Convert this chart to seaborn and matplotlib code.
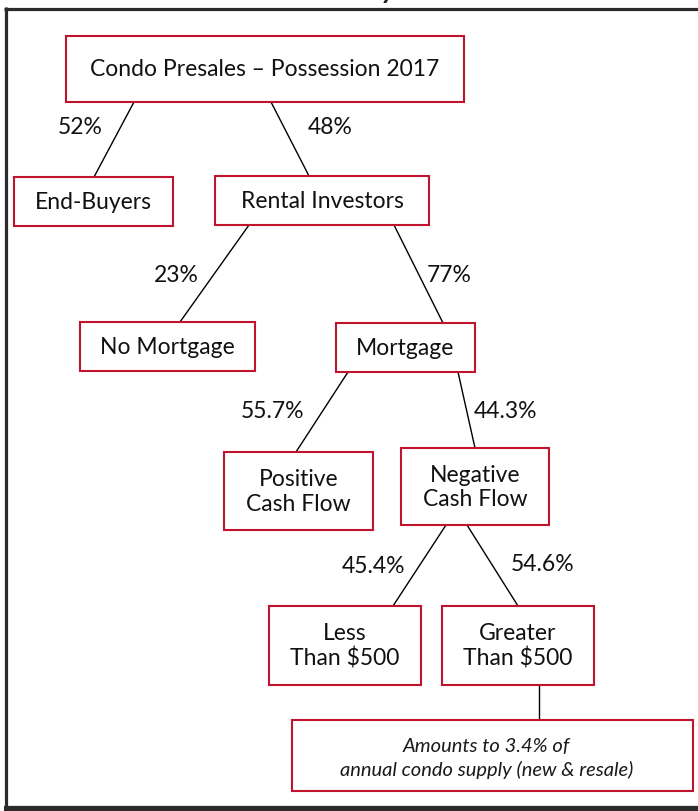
import pandas as pd
import seaborn as sns
from matplotlib import pyplot as plt
from matplotlib.patches import Rectangle

# tree content
node_labels = [
    "Condo Presales \u2013 Possession 2017",
    "End-Buyers",
    "Rental Investors",
    "No Mortgage",
    "Mortgage",
    "Positive\nCash Flow",
    "Negative\nCash Flow",
    "Less\nThan $500",
    "Greater\nThan $500",
    "Amounts to 3.4% of\nannual condo supply (new & resale)",
]
edge_parent = [0, 0, 2, 2, 4, 4, 6, 6, 8]
edge_child = [1, 2, 3, 4, 5, 6, 7, 8, 9]
edge_pct = ["52%", "48%", "23%", "77%", "55.7%", "44.3%", "45.4%", "54.6%", ""]

# layout in pixels (x0, y0, x1, y1)
box_xy = [
    (66, 37, 464, 103),
    (14, 178, 173, 227),
    (215, 177, 429, 226),
    (80, 323, 255, 372),
    (336, 324, 475, 373),
    (224, 453, 373, 531),
    (401, 449, 549, 526),
    (269, 607, 421, 686),
    (442, 607, 594, 686),
    (292, 721, 693, 792),
]
edge_from_x = [134, 271, 249, 394, 348, 458, 446, 467, 539]
edge_to_x = [94, 309, 180, 443, 296, 475, 393, 518, 539]
pct_xy = [(80, 128), (330, 128), (176, 276), (449, 276),
          (273, 412), (505, 412), (373, 567), (543, 565), (0, 0)]

sns.set_theme(style="white")
plt.rcParams['font.family'] = ['Lato', 'DejaVu Sans']

fig = plt.figure(figsize=(6.98, 8.12), dpi=100)
ax = fig.add_axes([0, 0, 1, 1])
ax.set_xlim(0, 698)
ax.set_ylim(812, 0)
ax.axis('off')

# connectors
rows = []
for i, (p, c) in enumerate(zip(edge_parent, edge_child)):
    rows.append({'edge': i, 'x': edge_from_x[i], 'y': box_xy[p][3]})
    rows.append({'edge': i, 'x': edge_to_x[i], 'y': box_xy[c][1]})
edges = pd.DataFrame(rows)
sns.lineplot(data=edges, x='x', y='y', units='edge', estimator=None,
             sort=False, color='black', linewidth=1.0, legend=False, ax=ax)
ax.set_xlim(0, 698)
ax.set_ylim(812, 0)
ax.axis('off')

# boxes + labels
for i, label in enumerate(node_labels):
    x0, y0, x1, y1 = box_xy[i]
    ax.add_patch(Rectangle((x0, y0), x1 - x0, y1 - y0, facecolor='white',
                           edgecolor='#C0142E', linewidth=1.5, zorder=3))
    if i == len(node_labels) - 1:
        ax.text((x0 + x1) / 2 - 6, (y0 + y1) / 2 + 2, label, ha='center', va='center',
                fontsize=14.5, style='italic', color='#1a1a1a', linespacing=1.35, zorder=4)
    else:
        ax.text((x0 + x1) / 2, (y0 + y1) / 2, label, ha='center', va='center',
                fontsize=16.5, color='#111111', linespacing=1.2, zorder=4)

for (x, y), pct in zip(pct_xy, edge_pct):
    if pct:
        ax.text(x, y, pct, ha='center', va='center', fontsize=16.5, color='#111111')

# outer frame (top, left, bottom)
ax.plot([4, 698], [9.5, 9.5], color='#2b2b2b', linewidth=2.3, solid_capstyle='butt')
ax.plot([5.5, 5.5], [8, 812], color='#2b2b2b', linewidth=2.3, solid_capstyle='butt')
ax.plot([4, 698], [809.5, 809.5], color='#2b2b2b', linewidth=4.5, solid_capstyle='butt')

# clipped title fragment above the frame
fig.text(388 / 698, 1 + 2 / 812, "y", ha='center', va='baseline',
         fontsize=20, fontweight='bold', style='italic', color='#222222')

fig.savefig('out.png', dpi=100)
